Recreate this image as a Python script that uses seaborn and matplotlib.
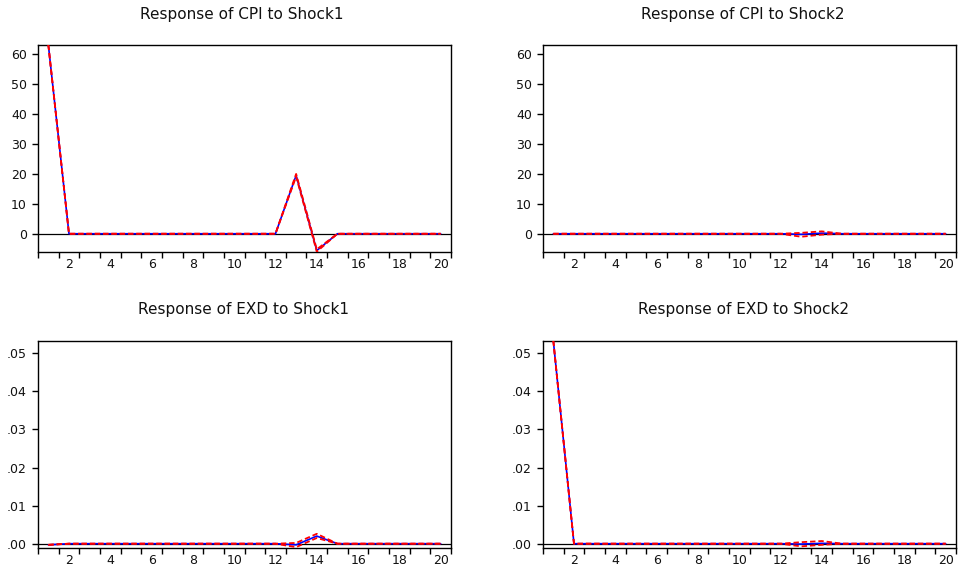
import numpy as np
import pandas as pd
import matplotlib
matplotlib.use("Agg")
import matplotlib.pyplot as plt
import seaborn as sns
from matplotlib.ticker import FuncFormatter, FixedLocator

sns.set_theme(style="white")
plt.rcParams["font.family"] = ["DejaVu Sans"]

periods = list(range(1, 21))

# Response of CPI to Shock1
cpi_s1 = [63.2, 0, 0, 0, 0, 0, 0, 0, 0, 0, 0, 0, 19.5, -5.6, 0, 0, 0, 0, 0, 0]
cpi_s1_hi = [63.2, 0, 0, 0, 0, 0, 0, 0, 0, 0, 0, 0, 20.0, -5.2, 0, 0, 0, 0, 0, 0]
cpi_s1_lo = [63.2, 0, 0, 0, 0, 0, 0, 0, 0, 0, 0, 0, 19.1, -6.0, 0, 0, 0, 0, 0, 0]

# Response of CPI to Shock2
cpi_s2 = [0, 0, 0, 0, 0, 0, 0, 0, 0, 0, 0, 0, -0.2, 0.2, 0, 0, 0, 0, 0, 0]
cpi_s2_hi = [0, 0, 0, 0, 0, 0, 0, 0, 0, 0, 0, 0, 0.3, 0.8, 0, 0, 0, 0, 0, 0]
cpi_s2_lo = [0, 0, 0, 0, 0, 0, 0, 0, 0, 0, 0, 0, -1.0, -0.3, 0, 0, 0, 0, 0, 0]

# Response of EXD to Shock1
exd_s1 = [-0.0003, 0, 0, 0, 0, 0, 0, 0, 0, 0, 0, 0, -0.0003, 0.0020, 0, 0, 0, 0, 0, 0]
exd_s1_hi = [-0.0003, 0, 0, 0, 0, 0, 0, 0, 0, 0, 0, 0, 0.0002, 0.0026, 0, 0, 0, 0, 0, 0]
exd_s1_lo = [-0.0003, 0, 0, 0, 0, 0, 0, 0, 0, 0, 0, 0, -0.0009, 0.0015, 0, 0, 0, 0, 0, 0]

# Response of EXD to Shock2
exd_s2 = [0.0533, 0, 0, 0, 0, 0, 0, 0, 0, 0, 0, 0, -0.0001, 0.0001, 0, 0, 0, 0, 0, 0]
exd_s2_hi = [0.0533, 0, 0, 0, 0, 0, 0, 0, 0, 0, 0, 0, 0.0004, 0.0007, 0, 0, 0, 0, 0, 0]
exd_s2_lo = [0.0533, 0, 0, 0, 0, 0, 0, 0, 0, 0, 0, 0, -0.0007, -0.0003, 0, 0, 0, 0, 0, 0]

titles = ["Response of CPI to Shock1", "Response of CPI to Shock2",
          "Response of EXD to Shock1", "Response of EXD to Shock2"]

cpi_ticks = [0, 10, 20, 30, 40, 50, 60]
exd_ticks = [0.00, 0.01, 0.02, 0.03, 0.04, 0.05]
x_labels = [2, 4, 6, 8, 10, 12, 14, 16, 18, 20]

panels = [
    (cpi_s1, cpi_s1_hi, cpi_s1_lo),
    (cpi_s2, cpi_s2_hi, cpi_s2_lo),
    (exd_s1, exd_s1_hi, exd_s1_lo),
    (exd_s2, exd_s2_hi, exd_s2_lo),
]

W, H = 958, 566
fig = plt.figure(figsize=(W / 100, H / 100), dpi=100)
fig.patch.set_facecolor("white")

# axes boxes in pixel units: left, top, right, bottom
boxes = [(38, 44.7, 451, 252), (543, 44.7, 956, 252),
         (38, 340.7, 451, 548), (543, 340.7, 956, 548)]
title_x = [242, 743, 244, 743]
title_y = [14.3, 14.3, 310, 310]

row_limits = [(-6.1, 63.2), (-0.00113, 0.0533)]


def dot_fmt(v, pos):
    s = f"{v:.2f}"
    return s.replace("0.", ".", 1) if s.startswith("0.") else s


for i, (resp, hi, lo) in enumerate(panels):
    l, t, r, b = boxes[i]
    ax = fig.add_axes([l / W, 1 - b / H, (r - l) / W, (b - t) / H])
    df = pd.DataFrame({"period": periods, "resp": resp, "hi": hi, "lo": lo})
    ax.axhline(0, color="black", lw=0.9, zorder=1)
    # impulse response (solid blue) under the +/- 2 S.E. bands (dashed red)
    sns.lineplot(data=df, x="period", y="resp", ax=ax, color="#0000ff",
                 lw=1.2, zorder=2)
    sns.lineplot(data=df, x="period", y="hi", ax=ax, color="#ff0000",
                 lw=1.3, zorder=3).lines[-1].set_dashes([3, 1.6])
    sns.lineplot(data=df, x="period", y="lo", ax=ax, color="#ff0000",
                 lw=1.3, zorder=3).lines[-1].set_dashes([3, 1.6])

    ax.set_xlim(0.5, 20.5)
    row = i // 2
    ax.set_ylim(*row_limits[row])
    ax.set_xlabel("")
    ax.set_ylabel("")

    ax.xaxis.set_major_locator(FixedLocator(x_labels))
    ax.xaxis.set_minor_locator(FixedLocator([k + 0.5 for k in range(0, 21)]))
    ax.tick_params(axis="x", which="major", length=0, pad=4.3,
                   labelsize=9, labelcolor="#111111")
    ax.tick_params(axis="x", which="minor", length=4.5, width=1,
                   direction="out", color="black", bottom=True)
    if row == 0:
        ax.yaxis.set_major_locator(FixedLocator(cpi_ticks))
    else:
        ax.yaxis.set_major_locator(FixedLocator(exd_ticks))
        ax.yaxis.set_major_formatter(FuncFormatter(dot_fmt))
    ax.tick_params(axis="y", which="major", length=4.5, width=1,
                   direction="out", color="black", left=True, pad=3.5,
                   labelsize=9, labelcolor="#111111")
    for lab in ax.get_yticklabels():
        lab.set_va("center_baseline")
    for sp in ax.spines.values():
        sp.set_visible(True)
        sp.set_color("black")
        sp.set_linewidth(1.0)
    ax.grid(False)
    ax.set_facecolor("white")

    ax.set_title(titles[i], fontsize=11, color="#111111", pad=0,
                 x=(title_x[i] - l) / (r - l),
                 y=1 + (t - title_y[i]) / (b - t), va="center")

fig.savefig("out.png", dpi=100, facecolor="white")
